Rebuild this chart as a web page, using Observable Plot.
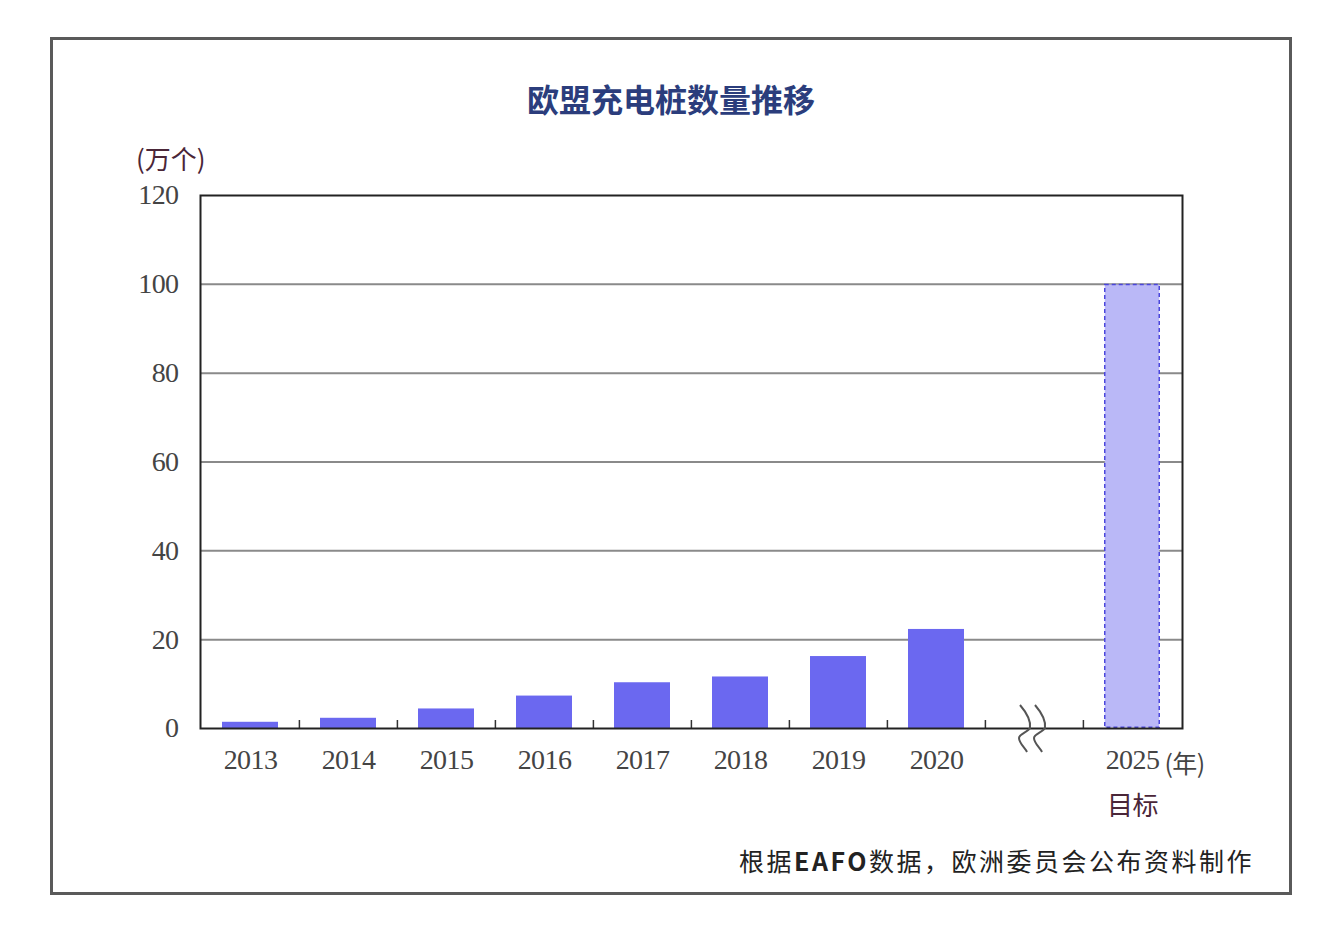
<!DOCTYPE html>
<html><head><meta charset="utf-8">
<script src="https://cdn.jsdelivr.net/npm/d3@7"></script>
<script src="https://cdn.jsdelivr.net/npm/@observablehq/plot@0.6"></script>
<style>
html,body{margin:0;padding:0;background:#fff;width:1340px;height:948px;overflow:hidden;}
#frame{position:absolute;left:50px;top:37px;width:1236px;height:852px;border:3px solid #5a5a5a;}
#title{position:absolute;left:50px;width:1242px;top:76px;text-align:center;font:bold 32px "Noto Sans CJK SC";color:#2b3d7c;line-height:44px;}
#unit{position:absolute;left:136px;top:140px;font:26px "Noto Sans CJK SC";color:#4a2638;line-height:36px;}
#chart{position:absolute;left:0;top:130px;}
#caption{position:absolute;right:86px;top:842px;font:25px "Noto Sans CJK SC";color:#222;letter-spacing:2.5px;line-height:36px;}
</style></head>
<body>
<div id="frame"></div>
<div id="title">欧盟充电桩数量推移</div>
<div id="unit">(万个)</div>
<div id="chart"></div>
<div id="caption">根据<b>EAFO</b>数据，欧洲委员会公布资料制作</div>
<script>
const categories = ["2013","2014","2015","2016","2017","2018","2019","2020","gap","2025"];
const years = ["2013","2014","2015","2016","2017","2018","2019","2020"];
const values = [1.4, 2.3, 4.4, 7.3, 10.3, 11.6, 16.2, 22.3];
const targetYear = "2025";
const targetValue = 100;
const yTicks = [0,20,40,60,80,100,120];
const gridValues = [20,40,60,80,100];

const actual = years.map((y,i)=>({year:y, value:values[i]}));
const target = [{year:targetYear, value:targetValue}];

const plot = Plot.plot({
  width: 1340, height: 710,
  marginLeft: 200, marginRight: 158, marginTop: 65, marginBottom: 112,
  style: {fontFamily: "Liberation Serif", fontSize: "28px", letterSpacing: "-0.6px", color: "#444", background: "transparent"},
  x: {domain: categories, paddingInner: 0.43, paddingOuter: 0.215, tickSize: 0, tickPadding: 21,
      tickFormat: d => d === "gap" ? "" : d, label: null},
  y: {domain: [0,120], ticks: yTicks, tickSize: 0, tickPadding: 22, label: null},
  marks: [
    Plot.ruleY(gridValues, {stroke: "#8a8a8a", strokeWidth: 2}),
    Plot.barY(actual, {x: "year", y: "value", fill: "#6b68f0"}),
    Plot.barY(target, {x: "year", y: "value", fill: "#bab8f7", stroke: "#4b46dc", strokeWidth: 1.5, strokeDasharray: "4,3", inset: 0.75}),
    Plot.ruleX(categories.slice(1), {x: d => d, y1: 0, y2: 1.8, dx: -49.1, stroke: "#333", strokeWidth: 1.5}),
    Plot.frame({stroke: "#222", strokeWidth: 2}),
    Plot.text(target, {x: "year", y: 0, text: () => "(年)", dx: 52, dy: 36, fontFamily: "Noto Sans CJK SC", fontSize: 25, fill: "#444", textAnchor: "middle"}),
    Plot.text(target, {x: "year", y: 0, text: () => "目标", dy: 78, fontFamily: "Noto Sans CJK SC", fontSize: 26, fill: "#4a2638"})
  ]
});
document.getElementById("chart").appendChild(plot);

// axis break symbol at the gap slot
const xs = plot.scale("x"), ys = plot.scale("y");
const cx = xs.apply("gap") + xs.bandwidth / 2;
const y0 = ys.apply(0);
const svg = d3.select(plot);
[-2, 13].forEach(ox => {
  const x = cx + ox - 12;
  const p = d3.path();
  p.moveTo(x, y0 - 23);
  p.bezierCurveTo(x + 6, y0 - 16, x + 11, y0 - 7, x + 10, y0);
  p.bezierCurveTo(x + 8, y0 + 4, x - 1, y0 + 6, x - 1, y0 + 10);
  p.bezierCurveTo(x - 1, y0 + 15, x + 5, y0 + 20, x + 7, y0 + 24);
  svg.append("path").attr("d", p.toString()).attr("fill", "none").attr("stroke", "#555").attr("stroke-width", 2);
});
</script>
</body></html>
